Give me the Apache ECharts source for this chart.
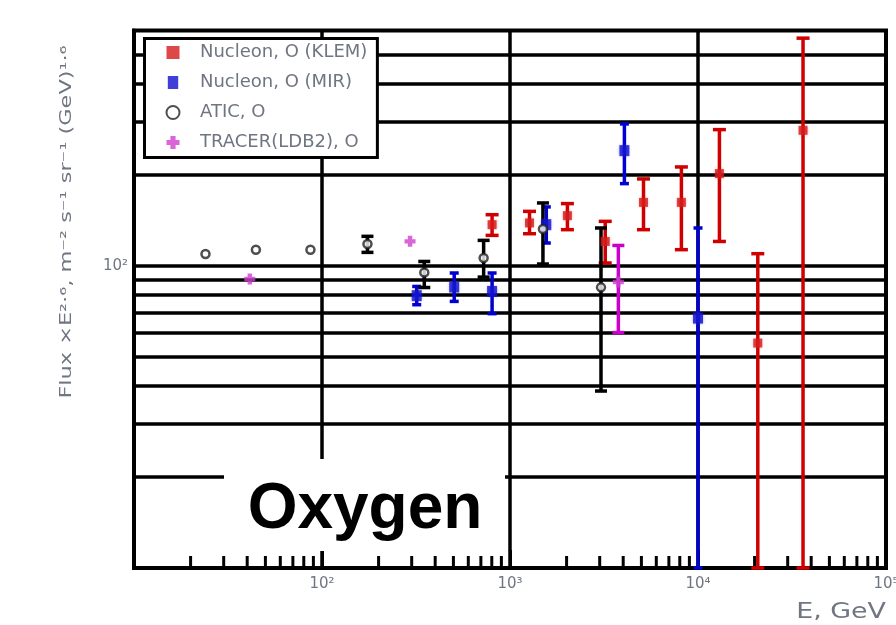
<!DOCTYPE html>
<html>
<head>
<meta charset="utf-8">
<script src="https://cdn.jsdelivr.net/npm/echarts@6/dist/echarts.min.js"></script>
<style>
  html, body { margin: 0; padding: 0; background: #fff; }
  #chart { width: 896px; height: 625px; }
</style>
</head>
<body>
<div id="chart"></div>
<script>
// ---- Oxygen flux (×E^2.6) measurements ----
// NUCLEON, KLEM method
const klemE    = [803, 1270, 2020, 3210, 5130, 8160, 13000, 20800, 36200];
const klemFlux = [136.7, 138.5, 146.4, 120.3, 162, 162, 201.7, 55.5, 280.5];
const klemLo   = [126, 127.6, 131.6, 102.1, 131.6, 113, 120.3, 10, 10];
const klemHi   = [147.5, 151.3, 160.5, 140.2, 193.7, 212.2, 282, 109.6, 566];

// NUCLEON, calorimeter method
const mirE    = [319, 505, 803, 1560, 4060, 10000];
const mirFlux = [79.6, 85.0, 82.2, 136.7, 240.3, 67.1];
const mirLo   = [74.3, 76.2, 69.4, 118.9, 186.9, 10];
const mirHi   = [85.4, 94.6, 94.6, 156.5, 294.5, 133.3];

// ATIC
const aticE    = [24.0, 44.5, 86.8, 174.5, 350, 724, 1497, 3048];
const aticFlux = [109.3, 113, 113, 118, 95, 106.1, 132.3, 84.8];
const aticLo   = [null, null, null, 110.7, 84.7, 91.7, 101.3, 38.5];
const aticHi   = [null, null, null, 125.1, 103.3, 121.3, 161.3, 133.3];

// TRACER (LDB2)
const tracerE    = [41.3, 294, 3770];
const tracerFlux = [90.4, 120.4, 88.3];
const tracerLo   = [null, null, 60.1];
const tracerHi   = [null, null, 116.7];

// Axis decoration
const xDecades      = [10, 100, 1000, 10000];
const xMinorFactors = [2, 3, 4, 5, 6, 7, 8, 9];
const xTickLabels   = ['', '10\u00b2', '10\u00b3', '10\u2074', '10\u2075'];   // 10^1 .. 10^5
const yTickLabels   = { 2: '10\u00b2' };
const fluxGridLines = [20, 30, 40, 50, 60, 70, 80, 90, 100, 200, 300, 400, 500];

const seriesNames = ['Nucleon, O (KLEM)', 'Nucleon, O (MIR)', 'ATIC, O', 'TRACER(LDB2), O'];

const TEXT_GRAY = '#6f7682';
const TEXT_FONT = 'DejaVu Sans';

function points(xs, ys) { return xs.map((x, i) => [x, ys[i]]); }
function bars(xs, lo, hi) {
  const out = [];
  xs.forEach((x, i) => { if (lo[i] != null && hi[i] != null) out.push([x, lo[i], hi[i]]); });
  return out;
}

const xMinorTicks = [];
xDecades.forEach(d => xMinorFactors.forEach(f => xMinorTicks.push([d * f, 10])));

function errorBar(color, capW) {
  return function (params, api) {
    const x = api.value(0);
    const top = api.coord([x, api.value(2)]);
    const bot = api.coord([x, api.value(1)]);
    const h = capW / 2;
    const st = { stroke: color, lineWidth: 3.5 };
    return {
      type: 'group',
      children: [
        { type: 'line', shape: { x1: top[0], y1: top[1], x2: bot[0], y2: bot[1] }, style: st },
        { type: 'line', shape: { x1: top[0] - h, y1: top[1], x2: top[0] + h, y2: top[1] }, style: st },
        { type: 'line', shape: { x1: bot[0] - h, y1: bot[1], x2: bot[0] + h, y2: bot[1] }, style: st }
      ]
    };
  };
}

function minorTick(params, api) {
  const p = api.coord([api.value(0), api.value(1)]);
  return { type: 'line', shape: { x1: p[0], y1: p[1], x2: p[0], y2: p[1] - 12 },
           style: { stroke: '#000', lineWidth: 3 } };
}

const chart = echarts.init(document.getElementById('chart'), null, { renderer: 'canvas' });

const option = {
  animation: false,
  backgroundColor: '#fff',
  grid: { left: 134, top: 30.5, right: 10, bottom: 57, show: true,
          containLabel: false, outerBoundsMode: 'none',
          borderColor: '#000', borderWidth: 4, backgroundColor: 'transparent' },
  legend: {
    orient: 'vertical', left: 144.5, top: 38.5,
    backgroundColor: '#fff', borderColor: '#000', borderWidth: 3,
    padding: [5, 10, 6, 21],
    itemWidth: 28, itemHeight: 13, itemGap: 12,
    textStyle: { color: TEXT_GRAY, fontFamily: TEXT_FONT, fontSize: 18, lineHeight: 13,
                 padding: [0, 0, 0, 8] },
    data: [
      { name: seriesNames[0], icon: 'path://M0,0h10v10h-10z' },
      { name: seriesNames[1], icon: 'path://M0,0h8v10h-8z' },
      { name: seriesNames[2], icon: 'circle' },
      { name: seriesNames[3], icon: 'path://M3,0h4v3h3v4h-3v3h-4v-3h-3v-4h3z' }
    ],
    z: 10
  },
  xAxis: {
    type: 'log', logBase: 10, min: 10, max: 100000,
    axisLine: { show: true, lineStyle: { color: '#000', width: 4 } },
    axisTick: { show: true, inside: true, length: 18, lineStyle: { color: '#000', width: 3 } },
    axisLabel: {
      showMinLabel: true, showMaxLabel: true, margin: 9,
      color: TEXT_GRAY, fontFamily: TEXT_FONT, fontSize: 15,
      formatter: v => xTickLabels[Math.round(Math.log10(v)) - 1] || ''
    },
    splitLine: { show: true, lineStyle: { color: '#000', width: 3.5 } }
  },
  yAxis: {
    type: 'log', logBase: 10, min: 10, max: 600,
    axisLine: { show: true, lineStyle: { color: '#000', width: 4 } },
    axisTick: { show: false },
    axisLabel: {
      margin: 6, color: TEXT_GRAY, fontFamily: TEXT_FONT, fontSize: 15,
      formatter: v => {
        const e = Math.log10(v);
        return Math.abs(e - Math.round(e)) < 1e-6 ? (yTickLabels[Math.round(e)] || '') : '';
      }
    },
    splitLine: { show: false }
  },
  graphic: [
    { type: 'rect', z: 1.5, shape: { x: 224, y: 459, width: 281, height: 92 },
      style: { fill: '#fff' }, silent: true },
    { type: 'text', z: 1.6, x: 365, y: 510, silent: true,
      style: { text: 'Oxygen', fill: '#000', font: 'bold 64px "Liberation Sans", Arial, sans-serif',
               align: 'center', verticalAlign: 'middle', textAlign: 'center', textVerticalAlign: 'middle' } },
    { type: 'text', z: 5, x: 67, y: 222, rotation: Math.PI / 2, scaleX: 1.4, silent: true,
      style: { text: 'Flux \u00d7E\u00b2\u00b7\u2076, m\u207b\u00b2 s\u207b\u00b9 sr\u207b\u00b9 (GeV)\u00b9\u00b7\u2076',
               fill: TEXT_GRAY, font: '16px "DejaVu Sans"',
               align: 'center', verticalAlign: 'middle', textAlign: 'center', textVerticalAlign: 'middle' } },
    { type: 'text', z: 5, x: 886, y: 613, scaleX: 1.28, silent: true,
      style: { text: 'E, GeV', fill: TEXT_GRAY, font: '21px "DejaVu Sans"',
               align: 'right', verticalAlign: 'middle', textAlign: 'right', textVerticalAlign: 'middle' } }
  ],
  series: [
    { name: 'x minor ticks', type: 'custom', z: 3, silent: true, clip: false,
      renderItem: minorTick, data: xMinorTicks, encode: { x: 0, y: 1 } },

    { name: 'KLEM errors', type: 'custom', z: 3, silent: true, renderItem: errorBar('#d00000', 13),
      data: bars(klemE, klemLo, klemHi), encode: { x: 0, y: [1, 2] } },
    { name: 'MIR errors', type: 'custom', z: 3, silent: true, renderItem: errorBar('#0000d0', 9),
      data: bars(mirE, mirLo, mirHi), encode: { x: 0, y: [1, 2] } },
    { name: 'ATIC errors', type: 'custom', z: 3, silent: true, renderItem: errorBar('#000', 12),
      data: bars(aticE, aticLo, aticHi), encode: { x: 0, y: [1, 2] } },
    { name: 'TRACER errors', type: 'custom', z: 3, silent: true, renderItem: errorBar('#cc00cc', 12),
      data: bars(tracerE, tracerLo, tracerHi), encode: { x: 0, y: [1, 2] } },

    { name: seriesNames[0], type: 'scatter', z: 4, symbol: 'rect', symbolSize: 9,
      itemStyle: { color: '#d41a1a', shadowBlur: 3, shadowColor: 'rgba(220,40,40,0.6)' },
      data: points(klemE, klemFlux) },
    { name: seriesNames[1], type: 'scatter', z: 4, symbol: 'rect', symbolSize: [10, 11],
      itemStyle: { color: '#1010d0', shadowBlur: 3, shadowColor: 'rgba(60,60,220,0.6)' },
      data: points(mirE, mirFlux) },
    { name: seriesNames[2], type: 'scatter', z: 4, symbol: 'circle', symbolSize: 8,
      itemStyle: { color: '#fff', borderColor: '#222', borderWidth: 2.5 },
      data: points(aticE, aticFlux),
      markLine: {
        silent: true, symbol: 'none', z: 1, animation: false,
        label: { show: false },
        lineStyle: { color: '#000', type: 'solid', width: 3.5 },
        emphasis: { disabled: true },
        data: fluxGridLines.map(v => ({ yAxis: v }))
      } },
    { name: seriesNames[3], type: 'scatter', z: 4,
      symbol: 'path://M3,0h4v3h3v4h-3v3h-4v-3h-3v-4h3z', symbolSize: 11,
      itemStyle: { color: '#d040d0' },
      data: points(tracerE, tracerFlux) }
  ]
};

chart.setOption(option);
</script>
</body>
</html>
